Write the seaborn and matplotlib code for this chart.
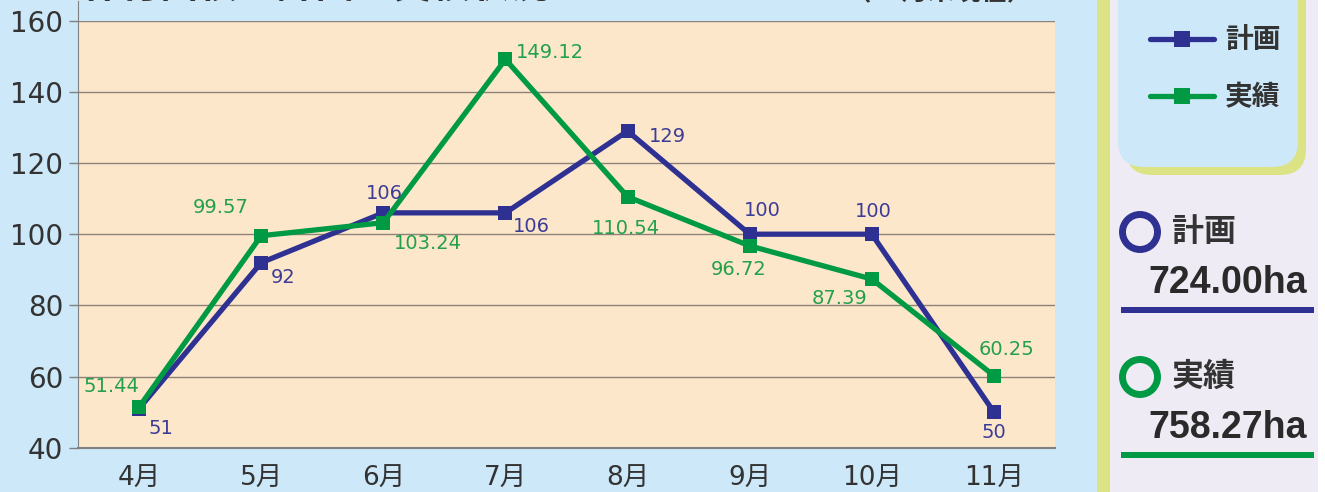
import numpy as np
import pandas as pd
import matplotlib.pyplot as plt
import seaborn as sns
from matplotlib.patches import FancyBboxPatch, Circle, Rectangle

# data
months = ['4月', '5月', '6月', '7月', '8月', '9月', '10月', '11月']
plan = [51, 92, 106, 106, 129, 100, 100, 50]
actual = [51.44, 99.57, 103.24, 149.12, 110.54, 96.72, 87.39, 60.25]
plan_total = 724.00
actual_total = 758.27
y_ticks = [40, 60, 80, 100, 120, 140, 160]
title = '作付面積の計画と実績状況'
note = '（11月末現在）'

# value label offsets (points)
plan_off = [(16, -14), (16, -11), (1, 14), (19, -10), (29, -4), (9, 17), (1, 16), (0, -15)]
actual_off = [(-20, 15), (-29, 20), (32, -15), (32, 5), (-1, -23), (-8, -17), (-23, -14), (9, 19)]

NAVY = '#2e3192'
GREEN = '#009944'
SKY = '#cde8f8'
LIME = '#dce384'
CJK = ['Noto Sans CJK JP', 'DejaVu Sans']

sns.set_style('ticks')
plt.rcParams['font.family'] = ['DejaVu Sans', 'Noto Sans CJK JP']

W, H = 1325, 492
fig = plt.figure(figsize=(W / 100, H / 100), dpi=100, facecolor=SKY)
ax = fig.add_axes([78 / W, 1 - 447.7 / H, (1055 - 78) / W, (447.7 - 20.7) / H])
ax.set_facecolor('#fce7cb')

df = pd.DataFrame({'month': months, 'plan': plan, 'actual': actual})
sns.lineplot(data=df, x='month', y='plan', ax=ax, color=NAVY, lw=3.8, marker='s',
             markersize=10, markeredgewidth=0, sort=False, legend=False, label='計画')
sns.lineplot(data=df, x='month', y='actual', ax=ax, color=GREEN, lw=3.8, marker='s',
             markersize=10, markeredgewidth=0, sort=False, legend=False, label='実績')

for i, (v, off) in enumerate(zip(plan, plan_off)):
    ax.annotate(f'{v:g}', (i, v), xytext=off, textcoords='offset points',
                ha='center', va='center', fontsize=14, color='#3c3c98')
for i, (v, off) in enumerate(zip(actual, actual_off)):
    ax.annotate(f'{v:.2f}', (i, v), xytext=off, textcoords='offset points',
                ha='center', va='center', fontsize=14, color='#22a04a')

ax.set_xlim(-0.5, len(months) - 0.5)
ax.set_ylim(40, 160)
ax.set_yticks(y_ticks)
ax.set_xlabel('')
ax.set_ylabel('')
ax.set_axisbelow(True)
ax.yaxis.grid(True, color='#8c8378', lw=1)
for s in ['top', 'right']:
    ax.spines[s].set_visible(False)
ax.spines['left'].set_color('#808080')
ax.spines['left'].set_bounds(40, 165.5)
ax.spines['bottom'].set_color('#808080')
ax.spines['bottom'].set_linewidth(1.5)
ax.tick_params(axis='y', length=6.5, width=1, color='#808080', labelsize=20,
               labelcolor='#333333', pad=4)
ax.tick_params(axis='x', length=0, labelsize=19, labelcolor='#333333', pad=13)

# title, mostly cut off at the top edge
fig.text(82 / W, 1 - 6 / H, title, va='bottom', ha='left', fontsize=28,
         fontweight='bold', color='#333333', family=CJK)
fig.text(845 / W, 1 - 6 / H, note, va='bottom', ha='left', fontsize=19,
         fontweight='bold', color='#333333', family=CJK)

# right panel in pixel coordinates
pax = fig.add_axes([1090 / W, 0, 235 / W, 1])
pax.set_xlim(1090, 1325)
pax.set_ylim(492, 0)
pax.axis('off')
pax.set_zorder(0)
pax.add_patch(Rectangle((1097, 0), 13, 492, color=LIME, lw=0))
pax.add_patch(Rectangle((1110, 0), 208, 492, color='#eeebf5', lw=0))
pax.add_patch(Rectangle((1318, 0), 7, 492, color='white', lw=0))
pax.add_patch(FancyBboxPatch((1126, -40), 180, 215, boxstyle='round,pad=0,rounding_size=26',
                             fc=LIME, ec='none'))
pax.add_patch(FancyBboxPatch((1118, -48), 180, 215, boxstyle='round,pad=0,rounding_size=26',
                             fc=SKY, ec='none'))

handles, labels = ax.get_legend_handles_labels()
fig.legend(handles, labels, loc='center left', bbox_to_anchor=(1136 / W, 1 - 69 / H),
           frameon=False, borderpad=0, handlelength=2.3, handletextpad=0.4,
           labelspacing=1.05, markerscale=1.15, labelcolor='#333333',
           prop={'family': CJK, 'weight': 'bold', 'size': 20})

for name, total, color, yc in [('計画', plan_total, NAVY, 232), ('実績', actual_total, GREEN, 377)]:
    pax.add_patch(Circle((1140, yc), 17.5, fill=False, ec=color, lw=5))
    pax.text(1172, yc, name, ha='left', va='center', fontsize=23, fontweight='bold',
             color='#333333', family=CJK)
    pax.text(1148, yc + 51, f'{total:.2f}ha', ha='left', va='center', fontsize=27,
             fontweight='bold', color='#2a2a2a', family=['Liberation Sans'])
    pax.add_patch(Rectangle((1121, yc + 75), 193, 6, color=color, lw=0))

plt.savefig('out.png', dpi=100, facecolor=fig.get_facecolor())
